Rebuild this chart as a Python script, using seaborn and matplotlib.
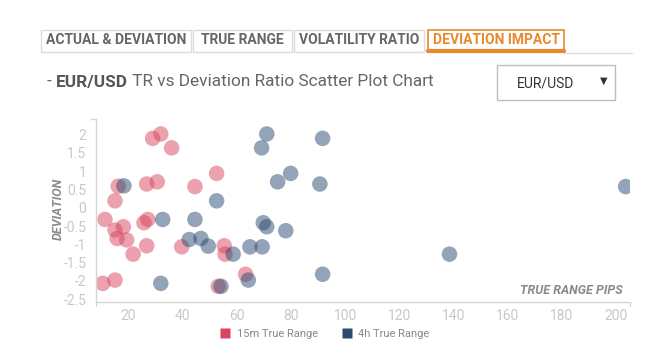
import numpy as np
import pandas as pd
import matplotlib
matplotlib.use("Agg")
import matplotlib.pyplot as plt
from matplotlib.patches import Rectangle
from matplotlib.lines import Line2D
import seaborn as sns

# ---- data ----
tr_15m = [10.6, 15.1, 11.4, 15.1, 15.9, 18.2, 19.4, 21.8, 15.1, 16.3, 26.8, 30.7, 29.0,
          32.0, 36.0, 25.8, 27.2, 26.8, 39.7, 44.6, 52.6, 55.4, 55.7, 53.2, 63.3]
dev_15m = [-2.07, -1.98, -0.32, -0.61, -0.84, -0.52, -0.88, -1.27, 0.19, 0.59, 0.65, 0.71, 1.90,
           2.02, 1.64, -0.41, -0.32, -1.04, -1.07, 0.58, 0.94, -1.04, -1.27, -2.15, -1.82]
tr_4h = [18.4, 32.7, 32.0, 44.6, 42.5, 46.8, 49.5, 52.6, 54.2, 58.7, 64.3, 64.9, 69.4,
         69.8, 71.1, 69.2, 71.1, 75.1, 79.9, 78.1, 90.7, 91.7, 91.7, 138.5, 203.5]
dev_4h = [0.60, -0.32, -2.07, -0.32, -0.87, -0.84, -1.05, 0.19, -2.15, -1.27, -1.98, -1.07, -1.07,
          -0.41, -0.52, 1.64, 2.02, 0.71, 0.94, -0.63, 0.65, 1.90, -1.82, -1.27, 0.58]
series_names = ["15m True Range", "4h True Range"]
series_colors = ["#d9455e", "#2b4a72"]
x_ticks = [20, 40, 60, 80, 100, 120, 140, 160, 180, 200]
y_ticks = [2, 1.5, 1, 0.5, 0, -0.5, -1, -1.5, -2, -2.5]
tabs = ["ACTUAL & DEVIATION", "TRUE RANGE", "VOLATILITY RATIO", "DEVIATION IMPACT"]

df = pd.DataFrame({
    "tr": tr_15m + tr_4h,
    "dev": dev_15m + dev_4h,
    "series": [series_names[0]] * len(tr_15m) + [series_names[1]] * len(tr_4h),
})

sns.set_style("white")
plt.rcParams["font.family"] = ["Roboto", "DejaVu Sans"]

W, H = 665, 362
fig = plt.figure(figsize=(W / 100, H / 100), dpi=100)

def fx(px):
    return px / W

def fy(py):
    return 1 - py / H

ax = fig.add_axes([fx(96), fy(302), fx(630) - fx(96), fy(119) - fy(302)])
sns.scatterplot(data=df, x="tr", y="dev", hue="series", hue_order=series_names,
                palette=series_colors, s=125, alpha=0.5, edgecolor="none",
                legend=False, ax=ax)

ax.set_xlim(8.1, 205.1)
ax.set_ylim(-2.58, 2.43)
ax.set_xticks(x_ticks)
ax.set_yticks(y_ticks)
ax.set_yticklabels([f"{v:g}" for v in y_ticks])
ax.tick_params(axis="both", length=0, labelsize=10, labelcolor="#c8c8c8")
ax.tick_params(axis="x", pad=5)
ax.tick_params(axis="y", pad=7)
ax.set_xlabel("")
ax.set_ylabel("")
for side in ["top", "right"]:
    ax.spines[side].set_visible(False)
for side in ["left", "bottom"]:
    ax.spines[side].set_color("#d6d6d6")
    ax.spines[side].set_linewidth(1.0)

# end ticks on axis lines
ax_l, ax_r, ax_b, ax_t = fx(96), fx(630), fy(302), fy(119)
fig.add_artist(Line2D([fx(91), ax_l], [ax_t, ax_t], color="#d6d6d6", lw=1))
fig.add_artist(Line2D([ax_l, ax_l], [ax_b, fy(306)], color="#d6d6d6", lw=1))
fig.add_artist(Line2D([ax_r, ax_r], [ax_b, fy(306)], color="#d6d6d6", lw=1))

# axis titles
fig.text(fx(58), fy(209), "DEVIATION", rotation=90, ha="center", va="center",
         fontsize=9, fontstyle="italic", fontweight="bold", color="#8a8a8a")
fig.text(fx(623), fy(290), "TRUE RANGE PIPS", ha="right", va="center",
         fontsize=9, fontstyle="italic", fontweight="bold", color="#8a8a8a")

# legend
handles = [Line2D([0], [0], marker="s", linestyle="none", markersize=7,
                  markerfacecolor=c, markeredgecolor="none") for c in series_colors]
fig.legend(handles, series_names, loc="center", bbox_to_anchor=(fx(325), fy(334)),
           ncol=2, frameon=False, fontsize=8, labelcolor="#888888",
           handlelength=0.8, handletextpad=0.6, columnspacing=2.2)

# tabs
tab_boxes = [(41, 191), (193, 292), (294, 424), (428, 564)]
for i, (name, (x0, x1)) in enumerate(zip(tabs, tab_boxes)):
    active = i == len(tabs) - 1
    ec = "#e8892a" if active else "#dcdcdc"
    fig.add_artist(Rectangle((fx(x0), fy(52)), fx(x1) - fx(x0), fy(30) - fy(52),
                             transform=fig.transFigure, facecolor="white",
                             edgecolor=ec, lw=1.2 if active else 1.0))
    fig.text(fx((x0 + x1) / 2), fy(40.5), name, ha="center", va="center",
             fontsize=10, fontweight="bold",
             color="#e8892a" if active else "#666666")
fig.add_artist(Line2D([fx(564), fx(632)], [fy(52.5), fy(52.5)], color="#dcdcdc", lw=1))
fig.add_artist(Line2D([fx(428), fx(564)], [fy(51), fy(51)], color="#e8892a", lw=3))

# title
t1 = fig.text(fx(47), fy(82), "- ", ha="left", va="center", fontsize=12.4, color="#666666")
fig.canvas.draw()
r = fig.canvas.get_renderer()
bb = t1.get_window_extent(r)
t2 = fig.text(bb.x1 / W, fy(82), "EUR/USD", ha="left", va="center", fontsize=12.4,
              fontweight="bold", color="#555555")
bb2 = t2.get_window_extent(r)
fig.text(bb2.x1 / W, fy(82), " TR vs Deviation Ratio Scatter Plot Chart", ha="left",
         va="center", fontsize=12.4, color="#666666")

# dropdown
fig.add_artist(Rectangle((fx(497), fy(100)), fx(615) - fx(497), fy(65) - fy(100),
                         transform=fig.transFigure, facecolor="white",
                         edgecolor="#bdbdbd", lw=1.0))
fig.text(fx(546), fy(83), "EUR/USD", ha="center", va="center", fontsize=10, color="#333333")
fig.text(fx(604), fy(81), "▼", ha="center", va="center", fontsize=7, color="#333333",
         family=["DejaVu Sans"])

fig.savefig("out.png", dpi=100)
